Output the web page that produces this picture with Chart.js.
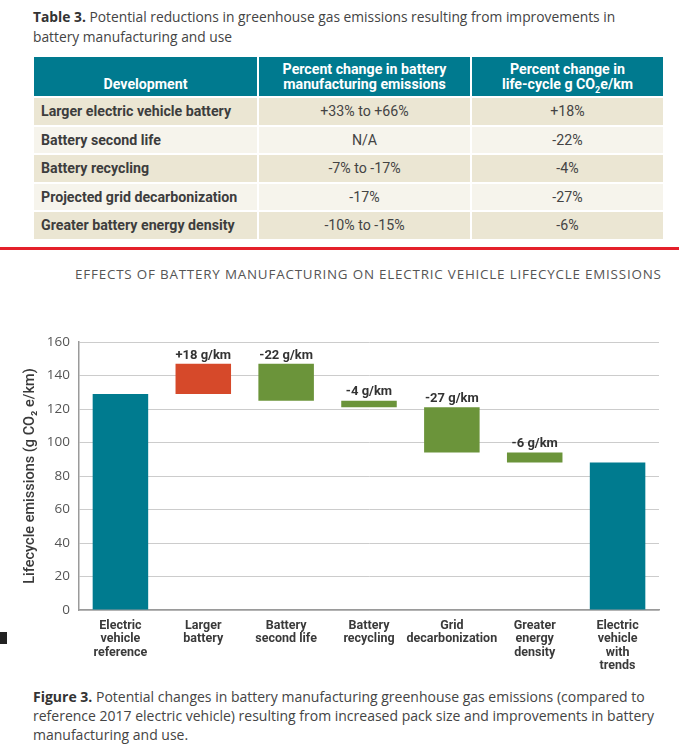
<!DOCTYPE html>
<html><head><meta charset="utf-8">
<script src="https://cdn.jsdelivr.net/npm/chart.js@4.4.0/dist/chart.umd.min.js"></script>
<style>
html,body{margin:0;padding:0;background:#fff;width:679px;height:750px;overflow:hidden;font-family:"Open Sans",Lato,sans-serif;color:#3a3a3a;}
#ttl{position:absolute;left:33px;top:7px;width:600px;font-size:13.8px;line-height:20px;color:#444;}
#ttl b{color:#333;}
table{position:absolute;left:32px;top:57px;width:633px;border-collapse:collapse;font-family:Roboto,"Open Sans",sans-serif;font-size:14.2px;table-layout:fixed;}
th{background:#007a8f;color:#fff;font-weight:700;border:2px solid #fff;border-top:none;height:35px;line-height:15px;vertical-align:bottom;padding:0 4px 4px 4px;}
td{border:2px solid #fff;height:26.5px;padding:0 7px;color:#333;}
td.l{font-weight:700;color:#3d3d3d;}
td.c{text-align:center;color:#444;}
tr.a td{background:#ebe6d3;}
tr.b td{background:#f6f4ec;}
#red{position:absolute;left:0;top:247px;width:679px;height:2.5px;background:#e4202a;}
#ctitle{position:absolute;left:75px;top:265px;font-size:13.4px;color:#555;letter-spacing:0.8px;white-space:nowrap;}
#sq{position:absolute;left:0;top:632px;width:7px;height:12px;background:#222;}
#wrap{position:absolute;left:0;top:320px;width:679px;height:360px;}
#cap{position:absolute;left:33px;top:687px;width:640px;font-size:14px;line-height:19px;color:#444;}
#cap b{color:#333;}
</style></head>
<body>
<div id="ttl"><b>Table 3.</b> Potential reductions in greenhouse gas emissions resulting from improvements in battery manufacturing and use</div>
<table>
<colgroup><col style="width:225px"><col style="width:213px"><col></colgroup>
<tr><th>Development</th><th>Percent change in battery<br>manufacturing emissions</th><th>Percent change in<br>life-cycle g CO<sub style="font-size:9px;line-height:0">2</sub>e/km</th></tr>
<tr class="a"><td class="l">Larger electric vehicle battery</td><td class="c">+33% to +66%</td><td class="c">+18%</td></tr>
<tr class="b"><td class="l">Battery second life</td><td class="c">N/A</td><td class="c">-22%</td></tr>
<tr class="a"><td class="l">Battery recycling</td><td class="c">-7% to -17%</td><td class="c">-4%</td></tr>
<tr class="b"><td class="l">Projected grid decarbonization</td><td class="c">-17%</td><td class="c">-27%</td></tr>
<tr class="a"><td class="l">Greater battery energy density</td><td class="c">-10% to -15%</td><td class="c">-6%</td></tr>
</table>
<div id="red"></div>
<div id="ctitle">EFFECTS OF BATTERY MANUFACTURING ON ELECTRIC VEHICLE LIFECYCLE EMISSIONS</div>
<div id="sq"></div>
<div id="wrap"><canvas id="c"></canvas></div>
<div id="cap"><b>Figure 3.</b> Potential changes in battery manufacturing greenhouse gas emissions (compared to reference 2017 electric vehicle) resulting from increased pack size and improvements in battery manufacturing and use.</div>
<script>
const categories = [
  ["Electric","vehicle","reference"],
  ["Larger","battery"],
  ["Battery","second life"],
  ["Battery","recycling"],
  ["Grid","decarbonization"],
  ["Greater","energy","density"],
  ["Electric","vehicle","with","trends"]
];
const barStart = [0, 129, 147, 125, 121, 94, 0];
const barEnd   = [129, 147, 125, 121, 94, 88, 88];
const changeLabels = ["", "+18 g/km", "-22 g/km", "-4 g/km", "-27 g/km", "-6 g/km", ""];
const barColors = ["#007b8f", "#d6492a", "#6b943a", "#6b943a", "#6b943a", "#6b943a", "#007b8f"];
const yTicks = [0, 20, 40, 60, 80, 100, 120, 140, 160];

const floatData = barStart.map((s, i) => [s, barEnd[i]]);

const labelPlugin = {
  id: 'chgLabels',
  afterDatasetsDraw(chart) {
    const ctx = chart.ctx;
    const meta = chart.getDatasetMeta(0);
    const y = chart.scales.y;
    ctx.save();
    ctx.font = 'bold 13px Roboto, "Open Sans", sans-serif';
    ctx.fillStyle = '#333';
    ctx.textAlign = 'center';
    ctx.textBaseline = 'bottom';
    meta.data.forEach((el, i) => {
      if (!changeLabels[i]) return;
      const top = Math.max(barStart[i], barEnd[i]);
      ctx.fillText(changeLabels[i], el.x, y.getPixelForValue(top) - 2);
    });
    ctx.restore();
  }
};

new Chart(document.getElementById('c'), {
  type: 'bar',
  data: {
    labels: categories,
    datasets: [{
      data: floatData,
      backgroundColor: barColors,
      borderColor: barColors,
      borderWidth: 0,
      borderSkipped: false,
      categoryPercentage: 1,
      barPercentage: 0.67
    }]
  },
  options: {
    responsive: true,
    maintainAspectRatio: false,
    animation: false,
    layout: { padding: { top: 22, right: 20, left: 0, bottom: 0 } },
    plugins: { legend: { display: false }, tooltip: { enabled: false } },
    scales: {
      x: {
        afterFit(s) { s.height = 70; },
        grid: { display: false, drawTicks: false },
        border: { display: true, color: '#9a9a9a', width: 1.5 },
        ticks: {
          color: '#3a3a3a',
          padding: 9,
          maxRotation: 0,
          autoSkip: false,
          font: { family: 'Roboto, "Open Sans", sans-serif', size: 12.5, weight: 'bold', lineHeight: 1.08 }
        }
      },
      y: {
        min: 0, max: 160,
        afterFit(s) { s.width = 79; },
        afterBuildTicks(s) { s.ticks = yTicks.map(v => ({ value: v })); },
        grid: { color: '#cccccc', borderDash: [1.5, 3], drawTicks: false, lineWidth: 1 },
        border: { display: true, color: '#9a9a9a', width: 1.5, dash: [] },
        ticks: {
          color: '#555',
          padding: 9,
          font: { family: '"Open Sans", sans-serif', size: 13.5 }
        },
        title: {
          display: true,
          text: 'Lifecycle emissions (g CO\u2082 e/km)',
          color: '#3a3a3a',
          padding: { top: 22, bottom: 0 },
          font: { family: 'Roboto, "Open Sans", sans-serif', size: 14.5, weight: '500' }
        }
      }
    }
  },
  plugins: [labelPlugin]
});
</script>
</body></html>
